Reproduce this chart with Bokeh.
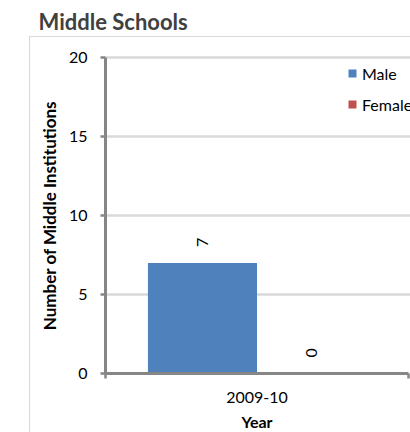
from math import pi
from bokeh.plotting import figure
from bokeh.models import (Range1d, FixedTicker, ColumnDataSource, LabelSet, Legend,
                          LegendItem, BoxAnnotation)
from bokeh.core.properties import value
from bokeh.embed import file_html
from bokeh.resources import INLINE

# ---- data ----
years = ["2009-10"]
male = [7]
female = [0]
y_ticks = [0, 5, 10, 15, 20]
series_names = ["Male", "Female"]
title_text = "Middle Schools"
x_title = "Year"
y_title = "Number of Middle Institutions"

# ---- style ----
FONT = "Lato"
BLUE = "#4F81BD"
RED = "#C0504D"
AXIS = "#868686"
GRID = "#D9D9D9"
OFF = 0.18   # dodge offset of each series within its category slot
W = 0.36     # bar width (fraction of category slot)

# pixel geometry: frame origin, canvas size, plot area inside the frame
FR_L, FR_T, CW, CH = 28, 35, 410, 432
PA_L, PA_R, PA_T, PA_B = 105, 408, 57, 373

n = len(years)
centers = [i + 0.5 for i in range(n)]
edges = list(range(n + 1))

# data ranges chosen so that [0, n] x [ymin, ymax] fills the plot area
ymin, ymax = y_ticks[0], y_ticks[-1]
xpx = (PA_R - PA_L) / n
ypx = (PA_B - PA_T) / (ymax - ymin)
x_range = Range1d(-(PA_L - FR_L) / xpx, n + (CW - PA_R) / xpx)
y_range = Range1d(ymin - (CH - PA_B) / ypx, ymax + (PA_T - FR_T) / ypx)

src = ColumnDataSource(dict(
    xm=[c - OFF for c in centers],
    xf=[c + OFF for c in centers],
    male=male,
    female=female,
    male_lbl=[str(v) for v in male],
    female_lbl=[str(v) for v in female],
))
grid_src = ColumnDataSource(dict(y=[t for t in y_ticks if t > ymin]))

p = figure(width=CW, height=CH, x_range=x_range, y_range=y_range,
           output_backend="svg", toolbar_location=None,
           min_border_left=FR_L, min_border_right=0,
           min_border_top=FR_T, min_border_bottom=0)
p.background_fill_color = "white"
p.border_fill_color = "white"
p.outline_line_color = None

# chart-area border: only its left and top edges are inside the picture
p.add_layout(BoxAnnotation(left=x_range.start + 1 / xpx, right=x_range.end + 100,
                           top=y_range.end - 1 / ypx, bottom=y_range.start - 100,
                           fill_alpha=0, line_color=AXIS, line_width=1.2,
                           level="underlay"))

# title
p.title.text = title_text
p.title.align = "left"
p.title.offset = 10
p.title.standoff = 2
p.title.text_font = FONT
p.title.text_font_size = "22px"
p.title.text_font_style = "bold"
p.title.text_color = "#404040"

# horizontal gridlines, only across the plot area
p.xgrid.grid_line_color = None
p.ygrid.grid_line_color = None
p.segment(x0=0, x1=x_range.end, y0="y", y1="y", source=grid_src,
          line_color=GRID, line_width=2.5, level="underlay")

# y axis
ya = p.yaxis[0]
ya.fixed_location = 0
ya.bounds = (ymin, ymax)
ya.ticker = FixedTicker(ticks=y_ticks)
ya.axis_line_color = AXIS
ya.axis_line_width = 3
ya.major_tick_line_color = AXIS
ya.major_tick_line_width = 2.5
ya.major_tick_out = 5
ya.major_tick_in = 0
ya.minor_tick_line_color = None
ya.major_label_standoff = 13
ya.major_label_text_font = FONT
ya.major_label_text_font_size = "16px"
ya.major_label_text_color = "#000000"
ya.axis_label = y_title
ya.axis_label_text_font = FONT
ya.axis_label_text_font_size = "17px"
ya.axis_label_text_font_style = "bold"
ya.axis_label_text_color = "#000000"
ya.axis_label_standoff = 6

# x axis: category labels at slot centres, tick marks at slot boundaries
xa = p.xaxis[0]
xa.fixed_location = ymin
xa.bounds = (0, n)
xa.ticker = FixedTicker(ticks=centers, minor_ticks=edges)
xa.major_label_overrides = {c: y for c, y in zip(centers, years)}
xa.axis_line_color = AXIS
xa.axis_line_width = 3
xa.major_tick_line_color = None
xa.major_tick_out = 0
xa.major_tick_in = 0
xa.minor_tick_line_color = AXIS
xa.minor_tick_line_width = 2.5
xa.minor_tick_out = 5
xa.minor_tick_in = 0
xa.major_label_standoff = 13
xa.major_label_text_font = FONT
xa.major_label_text_font_size = "16px"
xa.major_label_text_color = "#000000"
xa.axis_label = x_title
xa.axis_label_text_font = FONT
xa.axis_label_text_font_size = "16px"
xa.axis_label_text_font_style = "bold"
xa.axis_label_text_color = "#000000"
xa.axis_label_standoff = 6

# bars
r_m = p.vbar(x="xm", top="male", width=W, source=src,
             fill_color=BLUE, line_color=None)
r_f = p.vbar(x="xf", top="female", width=W, source=src,
             fill_color=RED, line_color=None)

# data labels (rotated)
for xcol, col in (("xm", "male"), ("xf", "female")):
    p.add_layout(LabelSet(x=xcol, y=col, text=col + "_lbl", source=src,
                          angle=pi / 2, y_offset=16,
                          text_align="left", text_baseline="middle",
                          text_font=value(FONT), text_font_size="16px",
                          text_color="#000000"))

legend = Legend(items=[LegendItem(label=series_names[0], renderers=[r_m]),
                       LegendItem(label=series_names[1], renderers=[r_f])],
                location=(347 - FR_L, CH - 114), padding=0, margin=0, spacing=11,
                glyph_height=10, glyph_width=10, label_height=20,
                label_standoff=5, background_fill_alpha=0,
                border_line_color=None,
                label_text_font=FONT, label_text_font_size="16px",
                label_text_color="#000000")
p.add_layout(legend)

open("out.html", "w").write(file_html(p, INLINE))
